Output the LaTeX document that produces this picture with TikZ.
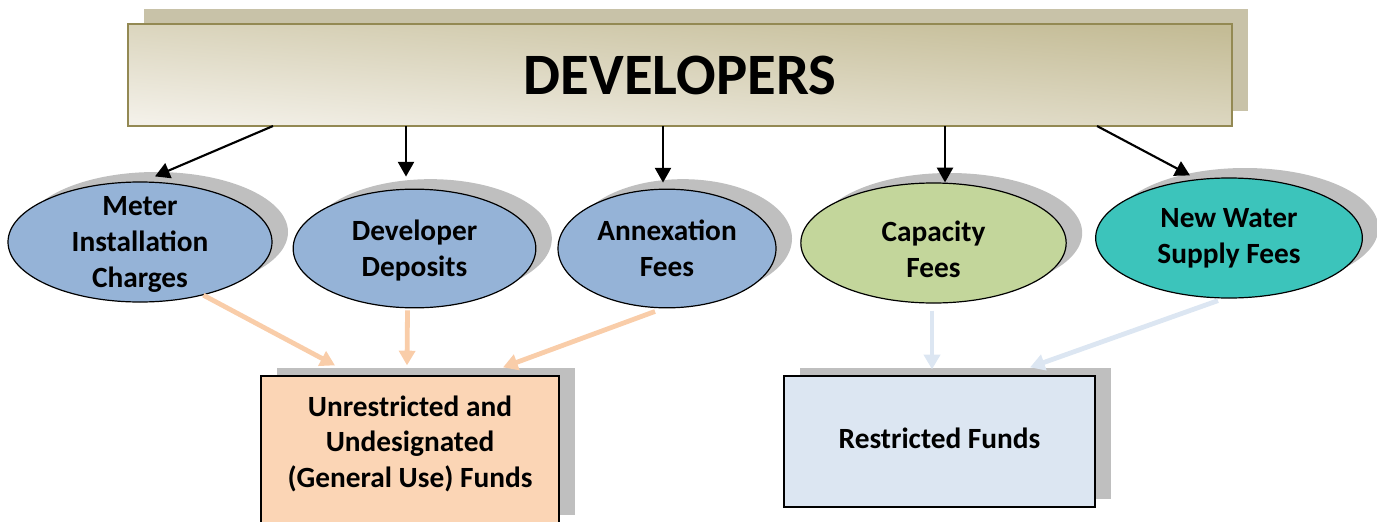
\documentclass[tikz,border=0pt]{standalone}
\usepackage{fontspec}
\setmainfont{Carlito}
\usepackage{xcolor}
\usepackage{tikz}
\usetikzlibrary{shapes.geometric}
\usetikzlibrary{shadows}
\usetikzlibrary{arrows.meta}
\usetikzlibrary{positioning}

\definecolor{devtop}{HTML}{C4BC96}
\definecolor{devbot}{HTML}{F3F0E8}
\definecolor{devborder}{HTML}{938953}
\definecolor{devshadow}{HTML}{C8C2A8}
\definecolor{shadowgray}{HTML}{BFBFBF}
\definecolor{feeblue}{HTML}{95B3D7}
\definecolor{feegreen}{HTML}{C3D69B}
\definecolor{feeteal}{HTML}{3CC4BB}
\definecolor{peachfill}{HTML}{FBD5B5}
\definecolor{peachline}{HTML}{F9CDA9}
\definecolor{paleblue}{HTML}{DCE6F2}

\tikzset{
  devbox/.style={rectangle, draw=devborder, line width=2pt,
    top color=devtop, bottom color=devbot, shading angle=-5,
    minimum width=828pt, minimum height=76.5pt, inner sep=0pt,
    font=\fontsize{44}{52}\selectfont\bfseries,
    drop shadow={shadow xshift=12pt, shadow yshift=11pt, fill=devshadow, opacity=1}},
  feeellipse/.style={ellipse, draw=black, line width=0.9pt, inner sep=0pt,
    align=center, font=\fontsize{22}{27}\selectfont\bfseries,
    drop shadow={shadow xshift=12pt, shadow yshift=7.5pt, fill=shadowgray, opacity=1}},
  fundbox/.style={rectangle, draw=black, line width=1.2pt, inner sep=0pt,
    align=center, font=\fontsize{22}{26.5}\selectfont\bfseries,
    drop shadow={shadow xshift=12pt, shadow yshift=6pt, fill=shadowgray, opacity=1}},
  peacharrow/.style={draw=peachline, line width=3.6pt, -{Triangle[length=11pt,width=12pt]}},
  bluearrow/.style={draw=paleblue, line width=3.6pt, -{Triangle[length=11pt,width=12pt]}}
}

\begin{document}
\begin{tikzpicture}[x=0.75pt,y=-0.75pt]
        \useasboundingbox (0,0) rectangle (1377,521);
        \node[devbox] (dev) at (680,75) {DEVELOPERS};
        \begin{scope}[every node/.style={feeellipse}]
        \node[fill=feeblue, minimum width=198pt, minimum height=90pt, inner ysep=-12pt, text height=72.5pt] (meter) at (140,242) {Meter\\Installation\\Charges};
        \node[fill=feeblue, minimum width=182pt, minimum height=89pt, text height=45.5pt] (deposits) at (414.5,248.5) {Developer\\Deposits};
        \node[fill=feeblue, minimum width=163.5pt, minimum height=89pt] (annex) at (667,248.5) {Annexation\\Fees};
        \node[fill=feegreen, minimum width=199pt, minimum height=90pt, text height=52pt] (capacity) at (933.5,243) {Capacity\\Fees};
        \node[fill=feeteal, minimum width=200pt, minimum height=90pt] (newwater) at (1229,238) {New Water\\Supply Fees};
        \end{scope}
        \node[fundbox, fill=peachfill, minimum width=223.5pt, minimum height=110pt, text depth=12pt] (unres) at (410,449.5) {Unrestricted and\\Undesignated\\(General Use) Funds};
        \node[fundbox, fill=paleblue, minimum width=233pt, minimum height=98pt, text depth=4.5pt] (restr) at (939.5,441.5) {Restricted Funds};
        \coordinate (d1) at (273,126);
        \coordinate (d2) at (406,126);
        \coordinate (d3) at (663,126);
        \coordinate (d4) at (945,126);
        \coordinate (d5) at (1097,126);
        \begin{scope}[every edge/.style={draw=black, line width=1.6pt, -{Triangle[length=11pt,width=12pt]}}]
        \path (d1) edge ([shift={(15,-5)}]meter.north);
        \path (d2) edge ([shift={(-8.5,-12)}]deposits.north);
        \path (d3) edge ([shift={(-4,-6)}]annex.north);
        \path (d4) edge ([shift={(11.5,0)}]capacity.north);
        \path (d5) edge ([shift={(-39,-2)}]newwater.north);
        \end{scope}
        \draw[peacharrow] (meter.-40) -- ([shift={(-75,-10)}]unres.north);
        \draw[peacharrow] ([shift={(-7,2)}]deposits.south) -- ([shift={(-3,-10)}]unres.north);
        \draw[peacharrow] ([shift={(-12,3)}]annex.south) -- ([shift={(93,-8)}]unres.north);
        \draw[bluearrow] ([shift={(-1.5,7)}]capacity.south) -- ([shift={(-7.5,-6)}]restr.north);
        \draw[bluearrow] ([shift={(-11,2)}]newwater.south) -- ([shift={(90.5,-8)}]restr.north);
        \end{tikzpicture}
\end{document}
